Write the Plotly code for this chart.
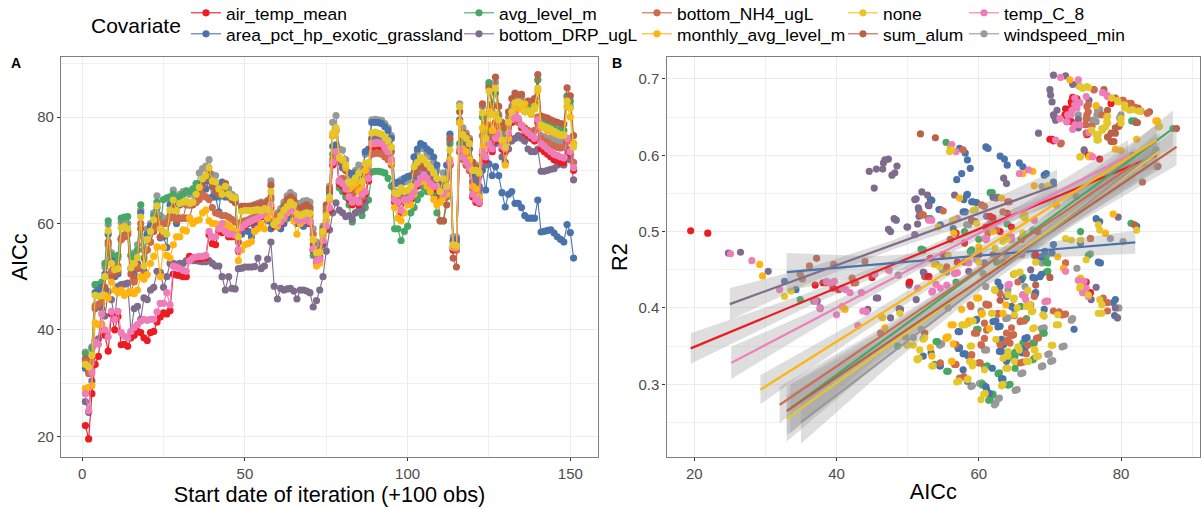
import numpy as np
import plotly.graph_objects as go

W, H = 1201, 508

COVARIATES = ["air_temp_mean", "area_pct_hp_exotic_grassland", "avg_level_m", "bottom_DRP_ugL",
              "bottom_NH4_ugL", "monthly_avg_level_m", "none", "sum_alum", "temp_C_8", "windspeed_min"]
COLORS = ["#EC1C24", "#4A73AB", "#47A865", "#7F6C8C", "#CD6B4C", "#FFB40F", "#E4C82B", "#BC6148", "#EE7DB9", "#999999"]
DRAW_ORDER = [9, 2, 1, 7, 3, 0, 4, 5, 8, 6]
LEGEND_TEXT_X = [226, 226, 499, 499, 677, 677, 883, 883, 1004, 1004]
LEGEND_TOP_Y = [-5, 16, -5, 16, -5, 16, -5, 16, -5, 16]

AIC_AIR = [22.0,19.5,28.0,33.5,35.0,41.0,39.0,36.0,43.0,40.0,
42.5,37.2,37.3,36.9,38.5,39.0,39.7,39.5,38.5,38.0,
39.5,39.7,41.5,42.4,43.2,43.0,43.6,50.5,50.3,50.2,
50.0,50.0,53.8,53.5,53.4,53.4,53.5,53.6,57.9,56.2,
56.0,58.5,58.3,58.5,57.5,57.5,57.5,54.8,59.0,59.5,
60.0,60.3,60.5,60.8,61.2,61.5,62.0,63.0,59.5,59.8,
60.0,61.0,62.0,62.5,62.0,60.5,60.2,60.5,60.5,60.0,
55.0,52.8,53.0,56.5,59.0,62.5,71.0,73.0,67.5,67.0,
66.0,64.5,63.5,64.0,63.5,64.5,65.5,68.0,74.3,74.5,
74.5,74.3,73.5,73.0,71.5,64.0,63.8,62.0,64.0,64.2,
64.5,65.5,67.0,68.0,68.5,68.0,67.0,66.5,66.5,65.5,
65.0,66.0,71.0,55.0,55.0,73.5,72.5,71.0,70.0,65.0,
64.0,63.8,73.0,72.0,74.5,73.5,75.5,76.0,74.0,73.5,
76.5,79.0,80.0,79.5,78.0,77.0,76.5,76.0,75.5,79.0,
74.0,73.5,73.0,72.5,72.0,72.0,71.5,71.5,75.5,73.0,70.0]

AIC_AREA = [32.8,32.3,34.0,47.0,47.5,48.0,50.5,58.0,53.0,50.0,
50.5,57.2,57.8,58.5,51.5,50.5,52.5,62.0,51.0,58.0,
59.5,60.5,63.0,57.3,57.5,55.5,63.5,64.0,60.0,63.5,
63.8,63.8,63.5,63.8,65.0,66.5,67.5,66.5,68.0,65.0,
65.0,62.2,67.8,65.0,65.3,65.0,64.5,55.0,58.0,59.0,
58.5,57.5,59.5,60.0,61.5,62.0,60.5,59.0,60.0,60.5,
59.0,60.0,61.0,62.0,61.5,60.0,60.2,59.5,60.0,60.5,
55.0,54.5,55.0,56.0,60.5,65.5,74.5,74.8,72.0,70.5,
70.0,69.5,69.3,69.5,68.0,69.0,73.5,74.0,79.0,79.0,
79.0,78.8,78.2,77.5,76.0,67.5,67.8,67.5,68.5,68.8,
69.0,72.5,74.0,75.0,74.7,74.0,73.5,72.5,71.0,67.0,
67.5,71.0,76.8,56.8,57.0,79.0,76.5,75.5,74.0,69.0,
68.0,67.0,70.0,66.3,71.2,69.0,70.7,69.0,65.8,63.1,
65.5,66.0,63.8,63.8,63.0,61.5,61.0,61.0,61.0,64.4,
58.4,58.5,58.7,58.8,58.2,57.5,57.0,56.5,59.8,58.3,53.5]

AIC_AVG = [35.5,34.5,36.5,48.5,48.5,49.0,52.5,60.5,54.0,53.0,
54.0,61.0,61.2,61.3,54.0,53.5,55.0,63.5,53.5,58.0,
59.0,61.5,64.0,59.5,64.5,64.8,65.0,65.5,64.5,65.0,
65.5,66.0,66.0,66.5,67.5,67.5,67.5,68.0,69.0,67.0,
66.5,65.0,65.5,66.5,65.0,64.5,64.0,55.0,62.5,62.5,
62.6,62.7,62.8,62.9,62.7,63.0,63.0,64.5,60.5,61.0,
62.0,63.0,64.0,64.5,64.0,62.5,62.3,62.5,62.7,62.5,
54.0,52.8,53.5,58.0,62.0,66.0,73.0,74.5,66.7,66.0,
65.0,63.5,60.3,62.0,62.5,61.5,63.0,64.4,69.7,69.8,
69.8,69.7,69.5,68.5,67.0,59.0,59.0,56.8,58.5,59.5,
62.0,63.0,64.5,65.5,66.7,66.0,66.0,65.5,62.0,60.5,
60.5,65.0,75.0,55.0,55.5,75.0,74.0,73.0,72.0,67.5,
66.0,65.5,80.0,77.0,86.5,82.5,84.5,80.0,77.5,75.5,
78.0,80.5,81.0,82.5,82.0,81.0,82.0,82.0,82.5,87.0,
80.0,79.5,79.0,78.5,78.0,77.5,77.5,77.5,84.0,83.0,75.0]

AIC_DRP = [26.5,24.5,30.4,38.0,38.3,44.0,42.6,47.2,45.7,42.0,
48.2,48.5,48.6,48.8,39.5,44.0,44.4,42.0,46.0,45.7,
47.5,48.0,51.0,50.8,48.0,50.0,52.5,52.5,52.3,52.5,
52.5,53.0,53.0,53.0,53.0,52.9,52.8,52.8,53.0,52.5,
52.0,52.0,50.0,47.5,50.0,47.8,47.7,51.5,51.6,51.8,
51.8,51.8,51.9,53.5,51.5,52.0,53.3,56.5,48.2,45.8,
47.8,47.5,47.7,47.8,47.3,45.8,47.5,47.5,47.3,47.0,
44.3,45.5,47.5,50.0,54.8,58.8,62.0,63.9,62.5,62.0,
61.3,61.5,60.8,62.0,64.0,62.5,64.0,69.0,76.0,76.2,
76.2,76.0,75.5,74.8,72.0,66.0,65.5,64.5,65.0,65.3,
66.0,67.5,68.5,69.0,69.5,69.0,68.0,67.0,68.0,66.0,
68.0,66.5,71.0,56.5,56.5,79.5,76.0,75.0,72.0,68.0,
67.5,66.5,73.0,71.0,76.0,74.0,75.0,75.5,72.5,71.5,
74.0,75.5,76.0,76.5,76.0,75.5,74.0,73.5,73.5,74.0,
69.8,69.8,70.0,70.2,70.3,71.0,71.2,71.0,74.0,72.0,68.2]

AIC_NH4 = [34.0,31.8,33.8,44.5,44.8,45.5,50.0,56.0,51.0,51.5,
52.0,57.0,57.8,58.0,47.0,49.0,52.0,60.0,50.5,55.0,
56.5,59.0,60.0,59.5,60.0,60.2,61.0,61.2,61.0,61.0,
61.0,63.5,63.5,64.0,64.0,64.5,65.5,65.0,64.5,63.0,
62.0,61.8,61.5,61.5,61.2,60.8,60.3,60.0,60.3,60.5,
60.7,61.0,61.2,61.5,61.8,62.0,63.0,65.0,60.5,61.5,
61.8,62.5,63.0,63.5,63.0,62.0,61.5,61.8,61.8,61.5,
58.0,54.5,55.0,58.5,62.5,64.5,72.0,73.0,68.0,68.5,
67.0,65.0,65.0,66.0,66.5,65.0,68.5,69.0,73.0,73.2,
73.2,73.0,72.5,72.0,71.0,65.5,64.5,64.5,64.3,64.5,
65.5,66.5,67.5,68.5,68.5,68.0,67.0,67.0,67.0,64.5,
66.0,65.5,71.0,55.5,55.0,73.5,72.0,71.0,70.0,66.5,
65.5,64.5,76.5,74.5,78.5,76.5,79.0,78.0,75.5,74.5,
78.0,80.0,80.5,79.0,78.5,78.0,77.5,77.0,77.5,80.0,
76.0,75.5,75.3,74.8,74.5,74.3,74.2,74.4,76.0,75.5,71.5]

AIC_MONTHLY = [29.0,29.2,29.5,41.3,41.0,41.0,46.5,46.0,49.0,47.5,
47.0,47.5,46.5,47.0,47.2,46.8,47.5,50.0,49.5,50.4,
52.5,53.8,55.6,50.0,55.5,54.0,53.5,56.0,57.5,57.5,
58.8,58.6,61.0,60.0,60.5,60.7,62.0,62.5,60.5,60.0,
60.0,59.5,59.0,60.0,59.5,59.0,58.5,53.0,55.0,56.0,
56.2,56.6,58.5,59.0,60.0,59.0,61.0,62.0,60.0,59.5,
60.5,61.0,62.0,62.5,60.5,58.0,60.0,60.5,61.0,60.5,
57.0,52.0,52.5,57.5,60.5,64.5,76.5,77.5,72.5,72.0,
70.5,66.5,67.0,67.5,66.0,66.5,70.0,71.0,75.0,75.0,
75.2,75.0,74.5,73.5,71.5,63.0,61.0,60.5,62.0,63.5,
63.5,65.5,67.5,68.5,68.0,67.0,66.0,64.5,63.5,64.0,
65.0,65.5,72.0,55.5,55.5,79.0,74.0,73.5,72.0,67.0,
66.5,65.0,78.0,74.5,81.0,77.5,80.5,77.0,75.5,71.0,
76.0,80.0,82.0,81.5,81.5,82.5,81.0,80.5,82.0,85.0,
78.0,78.0,77.5,77.3,77.0,76.8,76.5,76.6,82.0,80.0,75.0]

AIC_NONE = [33.5,33.0,35.2,46.5,46.3,46.4,50.0,58.6,52.5,51.3,
51.5,59.2,59.4,59.0,51.7,52.5,53.6,61.2,52.0,57.0,
58.5,60.7,63.3,59.0,58.5,58.0,62.5,64.4,62.4,63.8,
64.0,64.2,63.8,64.0,65.5,66.8,68.4,69.0,70.5,68.0,
67.8,66.5,65.5,67.0,65.5,65.0,64.8,57.5,62.3,62.4,
62.4,62.4,62.5,62.6,62.4,62.8,62.6,66.0,59.8,60.5,
61.5,62.5,63.2,64.0,63.5,61.8,61.5,61.8,62.0,61.9,
57.0,54.5,54.6,58.5,61.5,65.0,77.0,78.0,72.3,72.0,
71.0,67.6,67.8,68.6,69.5,67.9,71.3,71.5,77.0,77.2,
77.0,76.8,76.2,75.6,74.4,65.8,65.6,66.7,66.0,66.3,
67.0,70.7,71.5,72.5,72.0,71.2,70.5,69.5,68.5,66.0,
68.4,67.0,73.8,56.0,55.8,82.0,76.7,76.0,75.0,70.0,
70.0,69.5,80.8,76.0,84.9,80.4,85.4,79.5,75.7,74.4,
79.0,81.0,82.7,82.8,82.5,81.0,81.2,81.0,81.5,85.4,
78.5,78.2,78.0,77.7,77.3,77.0,76.7,76.6,83.0,81.7,74.4]

AIC_ALUM = [34.5,32.2,34.8,44.0,44.5,45.0,48.0,56.5,50.0,50.5,
51.0,57.0,57.5,58.0,50.5,49.5,51.5,59.0,50.0,55.0,
56.5,58.5,61.0,57.5,60.0,60.0,61.5,63.0,60.5,61.0,
61.0,61.0,61.0,63.5,64.0,66.0,67.0,68.5,69.5,67.0,
66.0,65.5,66.0,67.5,65.2,64.5,64.0,56.5,63.2,63.2,
63.2,63.2,63.5,63.5,63.8,63.2,64.3,67.2,60.3,61.0,
62.0,63.3,64.5,65.0,64.5,63.0,62.8,63.2,63.5,63.0,
56.0,53.5,53.8,59.0,63.5,66.5,76.5,77.5,71.5,72.0,
70.0,66.0,65.5,67.0,68.0,66.5,70.5,71.0,75.8,75.9,
76.0,76.0,75.5,74.8,73.5,64.8,64.5,65.3,65.0,65.2,
66.0,69.5,70.2,71.0,70.5,70.0,69.0,68.5,67.0,60.5,
60.5,63.5,76.0,53.5,51.8,81.0,77.0,76.5,75.5,71.5,
70.5,69.0,82.5,78.5,85.5,82.0,87.5,82.0,79.0,78.0,
81.0,83.5,84.5,84.2,84.3,82.5,83.0,83.0,83.5,88.0,
80.2,80.0,79.8,79.5,79.2,79.0,78.8,78.7,85.5,84.0,76.5]

AIC_TEMP = [28.0,24.8,32.0,37.7,37.3,43.0,40.0,38.7,43.5,42.0,
43.5,39.5,38.8,38.5,39.7,40.5,41.0,41.6,42.0,41.8,
42.0,42.0,43.4,45.0,45.0,47.0,44.7,52.0,51.8,51.5,
51.2,51.0,53.0,53.5,53.7,53.8,53.8,54.0,58.5,57.5,
57.5,59.0,60.0,58.5,58.0,58.0,57.8,55.0,59.2,59.8,
60.2,60.5,60.8,61.0,61.5,62.0,62.5,63.5,59.8,60.0,
60.3,61.2,62.3,62.8,62.3,60.8,60.5,60.8,60.8,60.3,
55.2,53.0,53.3,56.8,59.5,63.0,71.5,73.5,68.0,67.5,
66.5,65.0,64.0,64.5,64.0,65.5,66.0,68.5,75.0,75.2,
75.2,75.0,74.2,73.5,72.0,64.5,64.0,62.5,64.5,64.5,
65.0,66.0,67.5,68.5,69.2,68.5,67.5,67.0,67.0,66.0,
65.5,66.5,71.5,55.8,55.5,74.0,72.5,71.5,70.5,65.5,
64.5,64.0,73.5,72.5,75.0,74.0,76.0,76.8,74.5,74.0,
77.0,79.5,80.5,79.8,78.5,77.5,77.0,76.5,76.0,79.5,
75.0,74.5,74.0,73.5,73.0,72.8,72.5,72.3,76.0,73.5,70.5]

AIC_WIND = [35.8,34.5,36.8,48.5,47.8,48.2,51.8,59.8,54.5,53.0,
53.5,60.2,60.2,60.0,54.0,54.5,56.0,62.5,55.0,59.0,
60.0,62.0,65.2,61.5,61.0,60.5,64.5,66.3,64.8,65.5,
66.0,66.2,65.5,66.0,67.0,69.5,70.3,70.8,72.0,69.2,
69.0,67.0,66.5,67.5,66.5,65.5,65.0,58.5,63.2,63.2,
63.2,63.3,63.4,63.8,64.0,63.8,64.0,68.0,60.5,62.0,
62.8,64.0,65.2,65.8,65.3,63.8,63.8,64.2,64.3,64.0,
59.0,56.5,56.0,59.5,63.0,67.0,79.0,80.3,74.0,73.8,
72.0,69.0,69.0,70.0,71.0,69.8,73.0,73.5,79.5,79.6,
79.5,79.4,78.8,78.0,76.5,67.5,67.5,68.2,67.8,68.0,
68.8,72.5,73.5,74.5,74.0,73.2,72.5,71.5,70.0,67.5,
69.5,68.5,75.5,57.5,57.5,82.5,78.0,77.0,76.0,71.5,
71.0,70.5,82.0,77.5,86.0,81.0,86.5,80.5,77.0,76.0,
80.0,82.0,83.5,84.0,83.8,82.0,82.2,82.0,82.5,87.0,
76.5,76.3,76.0,76.0,75.7,75.5,75.3,75.5,83.8,82.0,75.0]

AIC_SERIES = [AIC_AIR, AIC_AREA, AIC_AVG, AIC_DRP, AIC_NH4, AIC_MONTHLY, AIC_NONE, AIC_ALUM, AIC_TEMP, AIC_WIND]
assert all(len(s) == 151 for s in AIC_SERIES), [len(s) for s in AIC_SERIES]

B_AIR = [(19.5,.501),(21.9,.498),(72.7,.66),(73,.67),(73.8,.674),(72.4,.651),(73,.644),(74.1,.64),(75.4,.629),
(70.3,.621),(75.4,.6),(77,.595),(78.6,.668),(38.1,.433),(39.5,.426),(40.3,.424),(42.5,.433),(61.6,.52),(62,.518),
(64,.524),(61,.506),(64.6,.506),(56.8,.498),(53.2,.465),(75.1,.434),(75.7,.42),(50.3,.434),(53,.441),(45,.44),
(37,.43),(58,.485),(60,.47),(63,.5),(66,.49),(68,.47),(57,.46),(55,.47),
(73.2,.676),(73.1,.666),(72.2,.661),(72.1,.653),(72.4,.644),(75.2,.627),(70,.621),(70.5,.619),
(50.2,.433),(52.9,.441),(64.1,.539),(64.1,.493),(68.3,.5)]
B_AREA = [(61,.611),(61.3,.609),(63,.599),(63.6,.595),(64,.587),(65.7,.59),(66.2,.585),(69.2,.574),(69.5,.576),
(70.5,.565),(57.3,.609),(58.1,.603),(58.4,.594),(58.8,.583),(57.6,.576),(56.9,.568),(58.4,.549),(57.9,.542),
(59,.539),(59.7,.538),(53.4,.541),(54.6,.529),(58.1,.526),(76.5,.517),(77,.513),(82.2,.507),(70.5,.483),(74.3,.485),
(68.1,.467),(54.6,.509),(63,.428),(62.7,.434),(66,.437),(67.9,.439),(68.8,.444),(70.3,.472),(76.8,.46),(77.1,.459),
(32.7,.435),(34.3,.424),(64.6,.402),(66.2,.417),(68,.42),(69.2,.398),(62.4,.383),(63,.376),(73.4,.372),(59.7,.385),
(57.3,.369),(79.2,.411),(78.9,.407),(79.1,.39),(63.2,.359),(63.5,.352),(66.8,.361),(66.5,.347),(63.2,.343),(63.9,.33),
(66.1,.341),(57.3,.348),(58.1,.34),(58.5,.337),(52.2,.337),(54.6,.324),(57.8,.319),(58.4,.304),(61.9,.321),(63.4,.307),
(61.1,.293),(61.5,.288),(61,.297),
(53.2,.542),(54.4,.529),(57.8,.526),(59.2,.539),(58.3,.548),(59.5,.513),(56.4,.504),(68.6,.441),(67.6,.44),(65,.399),
(63.9,.415),(69.3,.474),(67.9,.417),(68.8,.467),(59.6,.384),(57.1,.369),(62,.382),(62.7,.375),(62.9,.356),(62.9,.343),
(53.3,.341),(57.1,.347),(57.8,.34),(54.5,.324),(63.2,.307),(66.5,.36),(67.9,.419)]
B_AVG = [(55.4,.617),(61.9,.551),(62.7,.545),(81.9,.645),(87.3,.635),(53.2,.517),(81.4,.511),(74.3,.5),(59,.476),
(52.2,.476),(67.8,.469),(68.9,.467),(69.5,.468),(69.7,.459),(69.7,.448),(75.4,.469),(34.9,.411),(36.8,.409),(65.1,.337),
(65.3,.343),(67.8,.334),(67.8,.354),(66.4,.354),(69.2,.367),(59.9,.372),(54.2,.356),(55.7,.317),(53.8,.326),(61.2,.324),
(62.9,.315),(64.4,.3),(60.6,.3),(61.6,.28),(62,.287),(65.1,.321),(56.8,.434),(48.6,.35),(64.9,.444),(62.5,.46),(65.9,.402),
(66.2,.44),(60,.49),(64,.51),(58,.5),
(61.6,.551),(58.8,.474),(69.5,.447),(69.4,.461),(52.9,.517),(51.9,.477),(66.7,.386),(54,.356),(55.5,.317),(59.7,.372),
(60.8,.323),(62.7,.314),(60.5,.299),(64.1,.299),(61.9,.286),(61.4,.279),(64.8,.334),(65,.341),(69,.367),(67.6,.354),
(67.6,.332),(66.2,.354),(81.5,.645)]
B_DRP = [(70.5,.705),(72.2,.704),(70,.686),(70.1,.679),(70.3,.67),(71,.659),(70.5,.653),(68.4,.629),(74.8,.607),(46.8,.594),
(47.3,.595),(46.6,.59),(48.5,.586),(44.6,.579),(45.6,.582),(46.5,.582),(47.8,.574),(48.2,.577),(45.3,.557),(63.5,.57),
(63.9,.563),(52,.552),(52.8,.548),(51.2,.543),(53,.534),(51.6,.528),(51.6,.52),(51.4,.51),(48.4,.515),(48.1,.517),
(47.3,.503),(47.6,.5),(50,.506),(56.6,.548),(62.4,.544),(79.6,.519),(24.8,.472),(26.5,.473),(30.4,.448),(37.3,.409),
(37.7,.4),(45.8,.413),(44.4,.398),(49,.398),(52.3,.446),(51.2,.411),(76.5,.427),(75.8,.411),(79.2,.4),(79.5,.387),
(47.6,.387),(67.3,.45),(60.8,.459),(54,.457),(58.6,.448),(50.2,.43),
(70.6,.651),(70.8,.646),(74.1,.691),(73.2,.693),(75.5,.672),(74,.647),(74,.636),(75,.64),(51,.542),(52.2,.447),(45.6,.413),
(48.8,.399),(61.1,.52),(62,.545),(52.9,.535),(51.5,.531),(51,.496),(49.9,.506)]
B_NH4 = [(75.4,.666),(75.4,.657),(75.1,.648),(75.9,.638),(75.1,.629),(71.6,.616),(57.8,.607),(73.7,.546),(64.3,.539),
(52.2,.522),(55,.527),(60.8,.533),(34.9,.444),(35.2,.438),(36.2,.455),(39.6,.457),(44,.461),(42.2,.439),(42.7,.433),
(38.6,.433),(61.4,.404),(58.9,.402),(60.8,.38),(59.7,.367),(64.6,.374),(64.9,.365),(63,.352),(64.1,.358),(64.4,.354),
(60.3,.352),(59,.339),(56.8,.352),(60.2,.328),(57.9,.31),(56.8,.326),(54.6,.328),(65.9,.383),(66.4,.383),(68.4,.361),
(66.2,.329),(67.8,.415),(67.3,.404),(70.5,.396),(71.6,.391),(72.2,.392),(78.1,.407),(77.5,.413),(78.1,.396),(72.2,.459),
(46.2,.367),(75.7,.491),(62,.47),(58,.46),
(75.2,.664),(75.2,.653),(75.2,.649),(74.9,.64),(77.3,.653),(76.2,.686),(80.2,.672),(81.1,.668),(81.9,.663),(82.8,.658),
(83.7,.655),(60.4,.535),(52,.522),(55.5,.454),(65.5,.434),(62.7,.393),(58.8,.404),(61.1,.404),(63,.419),(62.5,.502),
(61.3,.498),(63.4,.526),(61,.405),(62.7,.392),(61.1,.371),(60.8,.36),(59.4,.367),(60.4,.351),(59,.338),(56.6,.326),(60,.328),
(57.3,.308),(63.9,.367),(64.6,.364),(63.9,.356),(65.8,.382),(68.1,.36),(66.9,.351),(66.7,.34),(65.8,.328),(71.3,.395),(71.8,.391)]
B_MONTHLY = [(72.8,.699),(76.5,.665),(82.2,.621),(85.1,.645),(80,.606),(75.7,.6),(66.2,.576),(67.6,.579),(67.8,.56),(56,.609),
(78.9,.523),(77.8,.498),(71.1,.467),(57.3,.544),(63.2,.544),(56.5,.498),(66.2,.493),(29.2,.457),(29.6,.442),(71.9,.452),
(74.3,.439),(74.2,.426),(41.2,.398),(40.8,.402),(46.5,.387),(46.8,.374),(60,.413),(69.5,.409),(63.8,.404),(56.4,.378),
(57.8,.378),(58.6,.383),(60.5,.393),(61.5,.373),(55.4,.361),(55.7,.362),(53.2,.348),(53.4,.337),(56.2,.33),(57.6,.398),
(50,.352),(53.8,.457),(64.9,.444),(60,.48),(62,.5),
(84.9,.645),(79.2,.608),(75.5,.598),(70.9,.535),(59.7,.413),(60.4,.392),(63.4,.393),(56.1,.378),(58.5,.38),(60.4,.392),
(59.8,.413),(55.4,.36),(56.4,.353),(56.2,.33)]
B_NONE = [(74.6,.688),(75.4,.689),(79.5,.672),(80.5,.666),(81.6,.66),(82.7,.658),(85.4,.638),(78.1,.651),(78.1,.642),(77.3,.635),
(76.5,.627),(76.8,.62),(80,.648),(74.3,.598),(55.9,.605),(56.2,.607),(69.7,.56),(59.5,.529),(66.2,.52),(66.5,.518),(76.8,.509),
(77,.502),(82.2,.502),(72.2,.491),(73,.489),(74.3,.489),(56.5,.515),(54.3,.506),(32.7,.415),(33.6,.422),(75.1,.463),(74.3,.428),
(77,.411),(77.3,.404),(77.3,.393),(62.2,.424),(64.1,.417),(64.9,.411),(65.4,.4),(67.6,.396),(69.2,.389),(71.2,.378),(71.1,.391),
(67.8,.374),(61.9,.393),(58.1,.378),(59.2,.383),(62.4,.359),(59,.35),(65.7,.345),(64.1,.337),(63.4,.334),(67,.33),(68.4,.337),
(67.9,.345),(70.4,.351),(59.2,.328),(64.1,.321),(51.6,.334),(51.4,.332),(53.6,.324),(57.2,.304),(58.5,.307),(60.3,.28),(60.9,.288),
(63.4,.3),(52.4,.361),(60,.46),(64,.49),(68,.46),
(74.2,.69),(75.2,.69),(78.7,.675),(79.6,.67),(80.5,.662),(81.2,.659),(82.4,.658),(78,.65),(78,.644),(77.8,.637),(77.4,.633),
(76.8,.627),(76.6,.62),(75.9,.633),(80,.642),(85.3,.637),(74.2,.598),(59.2,.528),(59.7,.511),(56.3,.514),(63.4,.487),(62.3,.478),
(55.7,.469),(54.5,.454),(65.8,.447),(65.1,.445),(66.2,.498),(66.5,.522),(67.2,.404),(66.9,.423),(62.3,.423),(48.9,.393),(46.3,.389),
(51.3,.333),(51.7,.345),(53.4,.324),(52.2,.359),(49.9,.351),(50.8,.351),(57.6,.378),(58.8,.35),(58.7,.33),(59.1,.324),(60.8,.319),
(58.4,.306),(56.9,.303),(63.2,.298),(60.7,.287),(63.8,.321),(64.1,.343),(65,.33),(66.7,.33),(68.1,.336),(67.8,.345),(65.5,.349),
(70.2,.351),(61.8,.393),(67.6,.373),(70.9,.378),(69,.391),(66.7,.402),(65,.413),(65,.391),(67.4,.395),(76.8,.393),(75.4,.417)]
B_ALUM = [(76.2,.686),(77.6,.686),(79.2,.675),(80.3,.672),(81.4,.668),(82.4,.662),(84,.657),(78.1,.659),(79.7,.638),(79.2,.629),
(78.1,.624),(79,.618),(82.3,.643),(51.8,.628),(53.9,.623),(83,.565),(85.1,.585),(87.8,.635),(81.9,.509),(37.2,.465),(56,.49),
(52.4,.367),(52.4,.441),(63.5,.46),(61,.49),(59,.515),(66,.47),(70,.44),(68,.43),(63,.41),(65,.39),
(79.8,.64),(79.2,.636),(78.6,.629),(78.2,.624),(78.6,.618),(82.1,.643),(71.5,.615),(75.7,.491)]
B_TEMP = [(71.5,.702),(74,.699),(71.4,.648),(73.5,.675),(75.1,.677),(73.8,.662),(73,.653),(73.6,.666),(78.1,.677),(78.6,.675),
(70.8,.62),(65.7,.576),(67,.581),(56.2,.614),(56.8,.605),(53,.515),(76,.598),(57,.517),(67.8,.515),(61.1,.491),(64.6,.489),
(25.1,.471),(28.1,.462),(32,.424),(38.6,.435),(39.2,.433),(39.7,.435),(40.8,.426),(41.9,.42),(41.3,.424),(43.5,.42),(43.7,.396),
(40,.391),(37.7,.399),(37,.409),(45.4,.444),(47.4,.449),(43,.377),(54.6,.426),(53.5,.422),(51.4,.426),(54,.431),(58.6,.459),
(64.3,.431),(66.5,.417),(66.6,.411),(69.7,.409),(72.2,.448),(74,.436),(74.8,.435),(75.1,.426),(74.6,.42),(75.4,.415),(57,.446),
(74.2,.669),(73.5,.666),(73.1,.659),(72.5,.653),(72.4,.644),(73.5,.64),(74.2,.64),(73.2,.634),(78,.679),(77.4,.682),(75.5,.63),
(53.4,.515),(56.6,.445),(55.5,.43),(53.4,.421),(60.9,.491),(66.2,.417),(59.7,.463),(64.1,.43),(69.3,.408),(64.6,.493),(47.3,.45),(44.2,.395)]
B_WIND = [(74,.653),(77,.66),(76.8,.653),(76.5,.644),(80,.653),(84.9,.607),(83,.59),(81.6,.6),(80.8,.585),(85.2,.586),(80.3,.487),
(78.5,.491),(74.9,.605),(58.6,.509),(68.9,.559),(73.8,.452),(75.7,.471),(79.5,.387),(79.7,.4),(73.2,.386),(72,.35),(69.2,.374),
(69.9,.34),(70.4,.331),(69,.324),(66.2,.315),(65.4,.293),(62.4,.275),(62.9,.282),(60.4,.302),(59.1,.298),(64.1,.387),(60.3,.396),
(61.1,.345),(54.8,.353),(50.8,.361),(49.7,.362),(51.9,.372),(55.7,.4),(66.5,.428),(52.2,.36),(64.1,.424),(61,.428),(54.9,.45),(68.9,.459),
(76.7,.659),(76.6,.653),(76,.646),(75.9,.64),(79.8,.649),(58.3,.509),(55.5,.447),(48.7,.443),(61.6,.511),(60.6,.445),(63.9,.469),(67.6,.502),
(54.5,.351),(60.8,.345),(63.8,.386),(68.8,.373),(73,.384),(71.7,.349),(69.7,.339),(70.1,.33),(68.8,.323),(65.9,.314),(65.1,.292),(62.7,.281),
(62.2,.273),(60.1,.301),(58.9,.297)]
B_POINTS = [B_AIR, B_AREA, B_AVG, B_DRP, B_NH4, B_MONTHLY, B_NONE, B_ALUM, B_TEMP, B_WIND]

# Fitted lines: start AICc, start R2, end AICc, end R2
FIT_LINES = [(19.5,.347,85,.600),(33,.447,82,.486),(33.5,.268,87.3,.635),(25,.405,71,.561),(32,.273,82,.589),
             (29.3,.293,85,.620),(33,.255,85.4,.605),(33,.265,87.8,.611),(25.2,.328,81,.600),(35,.250,85,.606)]
# half-width of the confidence band at five stations along each fitted line
FIT_BANDS = [(.020,.009,.005,.008,.016),(.025,.011,.008,.010,.015),(.033,.014,.006,.011,.024),(.021,.010,.006,.010,.020),
             (.024,.012,.006,.011,.022),(.019,.010,.006,.009,.020),(.030,.014,.006,.011,.024),(.032,.014,.006,.012,.024),
             (.021,.010,.006,.009,.020),(.028,.014,.007,.012,.024)]

XA_TICKS = [0, 50, 100, 150]
XA_MINOR = [25, 75, 125]
YA_TICKS = [20, 40, 60, 80]
YA_MINOR = [30, 50, 70, 90]
XB_TICKS = [20, 40, 60, 80]
XB_MINOR = [30, 50, 70, 90]
YB_TICKS = [0.3, 0.4, 0.5, 0.6, 0.7]
YB_MINOR = [0.25, 0.35, 0.45, 0.55, 0.65]

FONT = "Liberation Sans"
fig = go.Figure()

for i in DRAW_ORDER:
    s = AIC_SERIES[i]
    leg = "legend" if i == 0 else f"legend{i + 1}"
    fig.add_trace(go.Scatter(x=list(range(1, len(s) + 1)), y=s, mode="lines+markers", name=COVARIATES[i],
                             line=dict(color=COLORS[i], width=1.1), marker=dict(color=COLORS[i], size=7.2),
                             legend=leg, xaxis="x", yaxis="y"))

for i in DRAW_ORDER:
    pts = B_POINTS[i]
    fig.add_trace(go.Scatter(x=[p[0] for p in pts], y=[p[1] for p in pts], mode="markers", showlegend=False,
                             marker=dict(color=COLORS[i], size=7.2), xaxis="x2", yaxis="y2"))

for i in range(len(COVARIATES)):
    x0, y0, x1, y1 = FIT_LINES[i]
    t = np.array([0, .25, .5, .75, 1])
    xs = x0 + (x1 - x0) * t
    ys = y0 + (y1 - y0) * t
    hw = np.array(FIT_BANDS[i])
    fig.add_trace(go.Scatter(x=list(xs) + list(xs[::-1]), y=list(ys + hw) + list((ys - hw)[::-1]), fill="toself",
                             fillcolor="rgba(153,153,153,0.32)", line=dict(width=0), mode="lines", showlegend=False,
                             hoverinfo="skip", xaxis="x2", yaxis="y2"))
for i in range(len(COVARIATES)):
    x0, y0, x1, y1 = FIT_LINES[i]
    fig.add_trace(go.Scatter(x=[x0, x1], y=[y0, y1], mode="lines", line=dict(color=COLORS[i], width=2.2),
                             showlegend=False, xaxis="x2", yaxis="y2"))


def axis(rng, ticks, minor, title, standoff, anchor, domain, fmt=None):
    return dict(range=rng, domain=domain, anchor=anchor, tickmode="array", tickvals=ticks,
                ticktext=[(fmt % v if fmt else str(v)) for v in ticks],
                showgrid=True, gridcolor="#EBEBEB", gridwidth=1, zeroline=False,
                minor=dict(tickmode="array", tickvals=minor, showgrid=True, gridcolor="#F0F0F0", gridwidth=0.6, ticks=""),
                showline=True, mirror=True, linecolor="#7F7F7F", linewidth=1.3,
                ticks="outside", ticklen=3, tickcolor="#333333", tickwidth=1,
                tickfont=dict(family=FONT, size=15, color="#4D4D4D"),
                title=dict(text=title, font=dict(family=FONT, size=21.7, color="#000000"), standoff=standoff))


TOP, BOTTOM = 57, 457
ydom = [1 - BOTTOM / H, 1 - TOP / H]
legends = {}
for n, (tx, ty) in enumerate(zip(LEGEND_TEXT_X, LEGEND_TOP_Y), start=1):
    key = "legend" if n == 1 else f"legend{n}"
    legends[key] = dict(x=(tx - 40) / W, y=1 - ty / H, xanchor="left", yanchor="top", orientation="v",
                        bgcolor="rgba(0,0,0,0)", borderwidth=0,
                        font=dict(family=FONT, size=17.4, color="#000000"))

fig.update_layout(
    width=W, height=H, margin=dict(l=0, r=0, t=0, b=0, autoexpand=False), paper_bgcolor="white", plot_bgcolor="white",
    xaxis=axis([-6.5, 158.5], XA_TICKS, XA_MINOR, "Start date of iteration (+100 obs)", 2, "y", [61 / W, 598 / W]),
    yaxis=axis([16.1, 91.3], YA_TICKS, YA_MINOR, "AICc", 3, "x", ydom),
    xaxis2=axis([16.1, 91.1], XB_TICKS, XB_MINOR, "AICc", 2, "y2", [666.5 / W, 1200 / W]),
    yaxis2=axis([0.2047, 0.7288], YB_TICKS, YB_MINOR, "R2", 4, "x2", ydom, fmt="%.1f"),
    annotations=[
        dict(text="Covariate", x=89 / W, y=1 - 25 / H, xref="paper", yref="paper", xanchor="left", yanchor="middle",
             showarrow=False, font=dict(family=FONT, size=21, color="#000000")),
        dict(text="<b>A</b>", x=9 / W, y=1 - 63 / H, xref="paper", yref="paper", xanchor="left", yanchor="middle",
             showarrow=False, font=dict(family=FONT, size=14, color="#000000")),
        dict(text="<b>B</b>", x=610 / W, y=1 - 63 / H, xref="paper", yref="paper", xanchor="left", yanchor="middle",
             showarrow=False, font=dict(family=FONT, size=14, color="#000000")),
    ],
    **legends,
)

fig.write_html("out.html", post_script="document.body.style.margin='0';", config={"displayModeBar": False})
